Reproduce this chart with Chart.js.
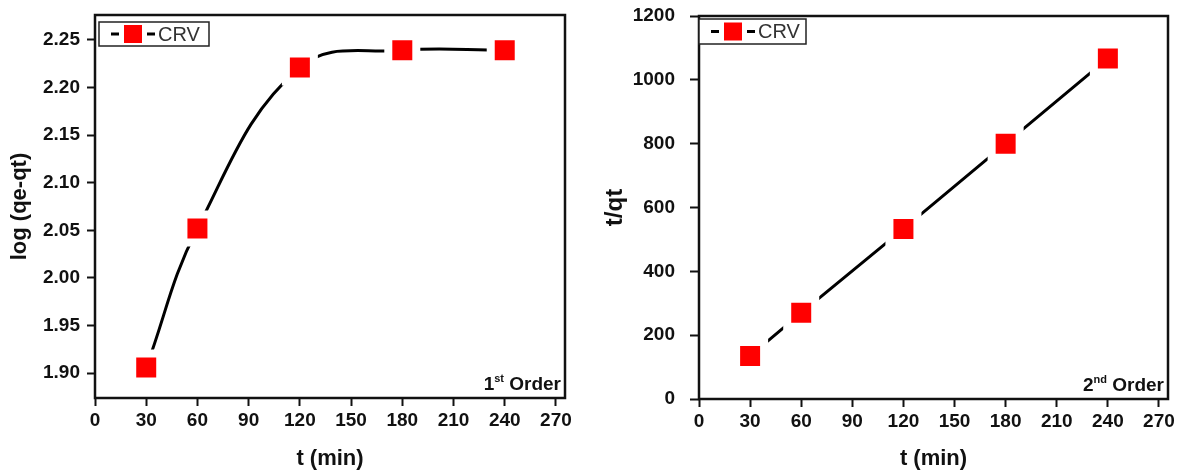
<!DOCTYPE html>
<html>
<head>
<meta charset="utf-8">
<title>CRV kinetics</title>
<script src="https://cdn.jsdelivr.net/npm/chart.js@4.4.1/dist/chart.umd.min.js"></script>
<style>
  html, body { margin: 0; padding: 0; background: #fff; }
  #wrap { position: relative; width: 1182px; height: 470px; }
  canvas { position: absolute; top: 0; }
  #chart-first { left: 0; }
  #chart-second { left: 591px; }
</style>
</head>
<body>
<div id="wrap">
  <canvas id="chart-first" width="591" height="470"></canvas>
  <canvas id="chart-second" width="591" height="470"></canvas>
</div>
<script>
// values
const T_MIN = [30, 60, 120, 180, 240]
const LOG_QE_QT = [1.906, 2.052, 2.221, 2.239, 2.239]
const T_QT = [135, 270, 533, 800, 1067]

// tick labels
const X_TICKS = [0, 30, 60, 90, 120, 150, 180, 210, 240, 270]
const LOG_TICKS = [1.90, 1.95, 2.00, 2.05, 2.10, 2.15, 2.20, 2.25]
const TQT_TICKS = [0, 200, 400, 600, 800, 1000, 1200]

const SERIES_LABEL = 'CRV'
const X_TITLE = 't (min)'

const FONT = "'Liberation Sans', Arial, sans-serif"
const INK = '#111'

// frame round the plot area (top and right sides included)
const framePlugin = {
  id: 'frame',
  afterDraw(chart) {
    const { ctx, chartArea: a } = chart
    ctx.save()
    ctx.strokeStyle = INK
    ctx.lineWidth = 2.5
    ctx.strokeRect(a.left, a.top, a.right - a.left, a.bottom - a.top)
    ctx.restore()
  },
}

// Origin-style legend box: -■- CRV
const legendBoxPlugin = {
  id: 'crvLegend',
  afterDraw(chart, args, opts) {
    const { ctx, chartArea: a } = chart
    const x = a.left + opts.dx
    const y = a.top + opts.dy
    const h = opts.h
    const cy = y + h / 2
    ctx.save()
    ctx.fillStyle = '#fff'
    ctx.fillRect(x, y, opts.w, h)
    ctx.strokeStyle = '#222'
    ctx.lineWidth = 1.5
    ctx.strokeRect(x, y, opts.w, h)

    ctx.strokeStyle = '#000'
    ctx.lineWidth = 3
    ctx.beginPath()
    ctx.moveTo(x + 12, cy); ctx.lineTo(x + 20, cy)
    ctx.moveTo(x + 48, cy); ctx.lineTo(x + 56, cy)
    ctx.stroke()

    ctx.fillStyle = '#ff0000'
    ctx.fillRect(x + 25, cy - 9, 18, 18)

    ctx.fillStyle = '#333'
    ctx.font = `20px ${FONT}`
    ctx.textBaseline = 'middle'
    ctx.textAlign = 'left'
    ctx.fillText(SERIES_LABEL, x + 59, cy + 1)
    ctx.restore()
  },
}

// "1st Order" / "2nd Order" note in the lower right corner
const orderNotePlugin = {
  id: 'orderNote',
  afterDraw(chart, args, opts) {
    const { ctx, chartArea: a } = chart
    const main = `bold 19px ${FONT}`
    const small = `bold 11px ${FONT}`
    ctx.save()
    ctx.fillStyle = INK
    ctx.textBaseline = 'alphabetic'
    ctx.textAlign = 'left'
    ctx.font = main
    const wNum = ctx.measureText(opts.num).width
    const wRest = ctx.measureText(' Order').width
    ctx.font = small
    const wSup = ctx.measureText(opts.sup).width
    const baseY = a.bottom - 8
    let x = a.right - 4 - (wNum + wSup + wRest)
    ctx.font = main
    ctx.fillText(opts.num, x, baseY)
    x += wNum
    ctx.font = small
    ctx.fillText(opts.sup, x, baseY - 8)
    x += wSup
    ctx.font = main
    ctx.fillText(' Order', x, baseY)
    ctx.restore()
  },
}

function makeChart(id, opt) {
  const ctx = document.getElementById(id).getContext('2d')
  const tickFont = { family: FONT, size: 19, weight: 'bold' }
  const titleFont = { family: FONT, size: 22, weight: 'bold', lineHeight: 1 }

  return new Chart(ctx, {
    type: 'line',
    data: {
      datasets: [
        {
          label: SERIES_LABEL,
          data: T_MIN.map((t, i) => ({ x: t, y: opt.values[i] })),
          borderColor: '#000',
          borderWidth: 3,
          tension: opt.tension,
          pointStyle: 'rect',
          pointRadius: 19.8,
          pointHoverRadius: 19.8,
          pointBackgroundColor: '#ff0000',
          pointBorderColor: '#fff',
          pointBorderWidth: 8,
          pointHoverBorderWidth: 8,
        },
      ],
    },
    options: {
      responsive: false,
      animation: false,
      events: [],
      devicePixelRatio: 1,
      layout: {
        autoPadding: false,
        padding: { left: 0, top: opt.top, right: opt.right, bottom: 0 },
      },
      plugins: {
        legend: { display: false },
        tooltip: { enabled: false },
        crvLegend: opt.legend,
        orderNote: opt.note,
      },
      scales: {
        x: {
          type: 'linear',
          min: 0,
          max: 275.3,
          afterBuildTicks: (s) => { s.ticks = X_TICKS.map(v => ({ value: v })) },
          afterFit: (s) => {
            s.height = opt.xAxisHeight
            s.paddingLeft = 0
            s.paddingRight = 0
          },
          border: { display: false },
          grid: {
            drawOnChartArea: false,
            drawTicks: true,
            tickLength: 8,
            tickWidth: 2,
            tickColor: INK,
          },
          ticks: { font: tickFont, color: INK, padding: 3, maxRotation: 0, autoSkip: false },
          title: {
            display: true,
            text: X_TITLE,
            font: titleFont,
            color: INK,
            padding: { top: 0, bottom: 0 },
          },
        },
        y: {
          type: 'linear',
          min: opt.yMin,
          max: opt.yMax,
          afterBuildTicks: (s) => { s.ticks = opt.yTicks.map(v => ({ value: v })) },
          afterFit: (s) => {
            s.width = opt.yAxisWidth
            s.paddingTop = 0
            s.paddingBottom = 0
          },
          border: { display: false },
          grid: {
            drawOnChartArea: false,
            drawTicks: true,
            tickLength: opt.yTickLength,
            tickWidth: 2,
            tickColor: INK,
          },
          ticks: {
            font: tickFont,
            color: INK,
            padding: opt.yPad,
            autoSkip: false,
            callback: opt.yFormat,
          },
          title: {
            display: true,
            text: opt.yTitle,
            font: { ...titleFont, size: opt.yTitleSize },
            color: INK,
            padding: { top: opt.yTitlePad, bottom: 0 },
          },
        },
      },
    },
    plugins: [framePlugin, legendBoxPlugin, orderNotePlugin],
  })
}

makeChart('chart-first', {
  values: LOG_QE_QT,
  tension: 0.4,
  yMin: 1.874,
  yMax: 2.276,
  yTicks: LOG_TICKS,
  yFormat: (v) => Number(v).toFixed(2),
  yTitle: 'log (qe-qt)',
  yTitleSize: 22,
  yTitlePad: 9,
  yPad: 7,
  yTickLength: 8,
  top: 15,
  right: 26,
  xAxisHeight: 72,
  yAxisWidth: 95,
  legend: { dx: 4, dy: 7, w: 110, h: 24 },
  note: { num: '1', sup: 'st' },
})

makeChart('chart-second', {
  values: T_QT,
  tension: 0,
  yMin: 0,
  yMax: 1200,
  yTicks: TQT_TICKS,
  yFormat: (v) => String(v),
  yTitle: 't/qt',
  yTitleSize: 24,
  yTitlePad: 12,
  yPad: 15,
  yTickLength: 9,
  top: 16,
  right: 14,
  xAxisHeight: 71,
  yAxisWidth: 108,
  legend: { dx: 0, dy: 3, w: 107, h: 25 },
  note: { num: '2', sup: 'nd' },
})
</script>
</body>
</html>
